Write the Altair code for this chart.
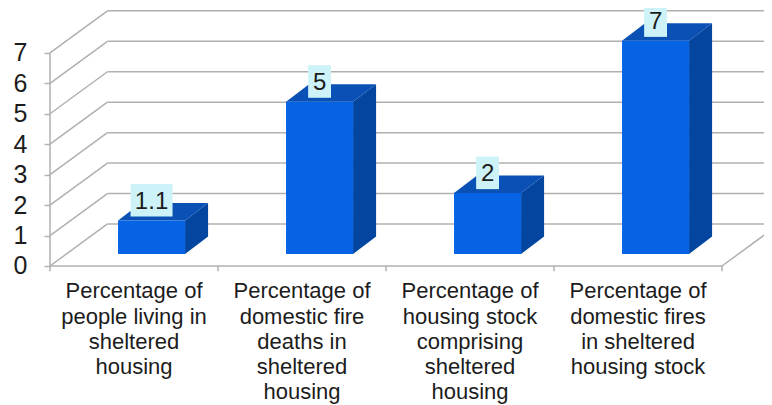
import altair as alt
import pandas as pd

categories = [
    "Percentage of\npeople living in\nsheltered\nhousing",
    "Percentage of\ndomestic fire\ndeaths in\nsheltered\nhousing",
    "Percentage of\nhousing stock\ncomprising\nsheltered\nhousing",
    "Percentage of\ndomestic fires\nin sheltered\nhousing stock",
]
values = [1.1, 5, 2, 7]
value_labels = ["1.1", "5", "2", "7"]
y_ticks = [0, 1, 2, 3, 4, 5, 6, 7]

# projection of the 3D box, in axis units
WALL_X, WALL_Y = 0.342, 1.38
BASE_Y = 0.394
BAR_L, BAR_R = 0.405, 0.804
SIDE_X, SIDE_Y = 0.137, 0.575

x_scale = alt.Scale(domain=[-0.25, 4.25], nice=False, zero=False)
y_scale = alt.Scale(domain=[-4.565, 8.473], nice=False, zero=False)
X = alt.X("x:Q", scale=x_scale, axis=None)
Y = alt.Y("y:Q", scale=y_scale,
          axis=alt.Axis(values=y_ticks, format="d", grid=False, domain=False, title=None,
                        offset=-42, tickSize=6, tickWidth=1.5, tickColor="#b2b2b2",
                        labelFontSize=25, labelFont="Liberation Sans", labelColor="#1c1c1c",
                        labelPadding=17))

GREY = "#b0b0b0"

# frame
wall = pd.DataFrame(
    [{"x": 0, "x2": WALL_X, "y": v, "y2": v + WALL_Y} for v in y_ticks]
    + [{"x": WALL_X, "x2": 4 + WALL_X, "y": v + WALL_Y, "y2": v + WALL_Y} for v in y_ticks]
    + [{"x": 0, "x2": 0, "y": 0, "y2": 7},
       {"x": 0, "x2": 4, "y": 0, "y2": 0},
       {"x": 4, "x2": 4 + WALL_X, "y": 0, "y2": WALL_Y}]
    + [{"x": i, "x2": i, "y": 0, "y2": -0.17} for i in range(5)]
)
frame = alt.Chart(wall).mark_rule(color=GREY, strokeWidth=1.5, clip=True).encode(
    x=X, x2="x2:Q", y=Y, y2="y2:Q")

front_rows, side_rows, top_rows = [], [], []
box_rows, text_rows = [], []
box_half = {"1.1": 0.125}
for i, (v, lab) in enumerate(zip(values, value_labels)):
    l, r = i + BAR_L, i + BAR_R
    t = BASE_Y + v
    front_rows.append({"x": l, "x2": r, "y": BASE_Y, "y2": t})
    side_rows += [{"b": i, "x": r, "y": BASE_Y, "y2": t},
                  {"b": i, "x": r + SIDE_X, "y": BASE_Y + SIDE_Y, "y2": t + SIDE_Y}]
    top_rows += [{"b": i, "x": l, "y": t, "y2": t},
                 {"b": i, "x": l + SIDE_X, "y": t, "y2": t + SIDE_Y},
                 {"b": i, "x": r, "y": t, "y2": t + SIDE_Y},
                 {"b": i, "x": r + SIDE_X, "y": t + SIDE_Y, "y2": t + SIDE_Y}]
    c = (l + r) / 2
    h = box_half.get(lab, 0.068)
    box_rows.append({"x": c - h, "x2": c + h, "y": t + 0.13, "y2": t + 1.2})
    text_rows.append({"x": c, "y": t + 0.62, "label": lab})

front = alt.Chart(pd.DataFrame(front_rows)).mark_rect(color="#0563e4").encode(
    x=X, x2="x2:Q", y=Y, y2="y2:Q")
side = alt.Chart(pd.DataFrame(side_rows)).mark_area(color="#04459f", opacity=1).encode(
    x=X, y=Y, y2="y2:Q", detail="b:N")
top = alt.Chart(pd.DataFrame(top_rows)).mark_area(color="#0a50b5", opacity=1).encode(
    x=X, y=Y, y2="y2:Q", detail="b:N")
boxes = alt.Chart(pd.DataFrame(box_rows)).mark_rect(color="#cdf3f8").encode(
    x=X, x2="x2:Q", y=Y, y2="y2:Q")
texts = alt.Chart(pd.DataFrame(text_rows)).mark_text(
    fontSize=24, font="Liberation Sans", color="#1c1c1c", baseline="middle", align="center"
).encode(x=X, y=Y, text="label:N")

cat_df = pd.DataFrame({"x": [i + 0.5 for i in range(4)], "y": [-0.5] * 4, "label": categories})
cats = alt.Chart(cat_df).mark_text(
    fontSize=22, font="Liberation Sans", color="#1c1c1c", lineBreak="\n", lineHeight=25.3,
    baseline="top", align="center"
).encode(x=X, y=Y, text="label:N")

chart = alt.layer(frame, side, top, front, boxes, texts, cats).properties(
    width=756, height=397, padding=0, autosize=alt.AutoSizeParams(type="none"),
    background="white"
).configure_view(stroke=None)

chart.save("out.html", embed_options={"renderer": "svg", "actions": False})
